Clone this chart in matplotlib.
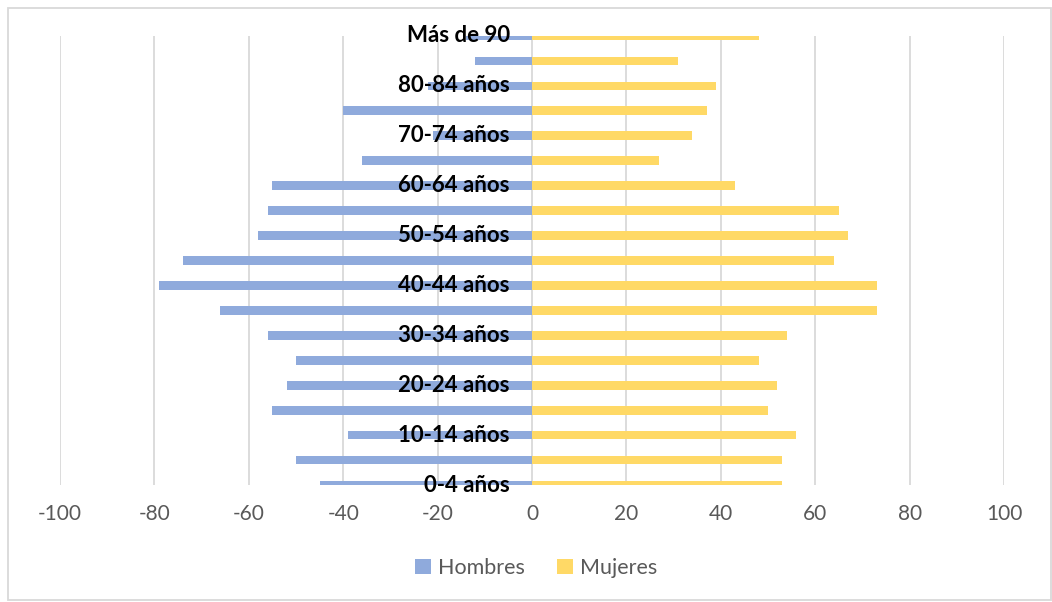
import matplotlib.pyplot as plt
from matplotlib.patches import Rectangle

# grupos de edad, de abajo hacia arriba
grupos = ['0-4 años', '5-9 años', '10-14 años', '15-19 años', '20-24 años',
          '25-29 años', '30-34 años', '35-39 años', '40-44 años', '45-49 años',
          '50-54 años', '55-59 años', '60-64 años', '65-69 años', '70-74 años',
          '75-79 años', '80-84 años', '85-89 años', 'Más de 90']
hombres = [-45, -50, -39, -55, -52, -50, -56, -66, -79, -74,
           -58, -56, -55, -36, -21, -40, -22, -12, -14]
mujeres = [53, 53, 56, 50, 52, 48, 54, 73, 73, 64,
           67, 65, 43, 27, 34, 37, 39, 31, 48]
xticks = [-100, -80, -60, -40, -20, 0, 20, 40, 60, 80, 100]

plt.rcParams['font.family'] = ['Lato', 'DejaVu Sans']

fig = plt.figure(figsize=(10.52, 6.02), dpi=100)
ax = fig.add_axes([60/1052, (602-485)/602, (1004-60)/1052, (485-36)/602])

y = list(range(len(grupos)))
ax.barh(y, hombres, height=0.35, color='#8faadc', label='Hombres', zorder=2)
ax.barh(y, mujeres, height=0.35, color='#ffd966', label='Mujeres', zorder=2)

# lineas verticales de la cuadricula
for t in xticks:
    ax.axvline(t, color='#d9d9d9', lw=1.3, zorder=0)

ax.set_xlim(-100, 100)
ax.set_ylim(0, 18)
ax.set_xticks(xticks)
ax.set_xticklabels([str(t) for t in xticks], fontsize=15, color='#595959')
ax.tick_params(axis='x', length=0, pad=14)
ax.set_yticks([])
for s in ax.spines.values():
    s.set_visible(False)

# etiquetas de grupo, una si y una no
for i, g in enumerate(grupos):
    if i % 2 == 0:
        ax.annotate(g, (0, i), xytext=(-16, 0), textcoords='offset points',
                    ha='right', va='center', fontsize=16, fontweight='bold',
                    color='black', zorder=5, annotation_clip=False)

fig.legend(loc='center', bbox_to_anchor=(536/1052, 1 - 568/602), ncol=2,
           frameon=False, fontsize=15.5, labelcolor='#595959',
           handlelength=0.75, handleheight=0.75, handletextpad=0.3,
           columnspacing=1.5)

fig.patches.append(Rectangle((8/1052, 2/602), 1043/1052, 592/602,
                             transform=fig.transFigure, fill=False,
                             edgecolor='#d9d9d9', lw=1.3))

fig.savefig('out.png', dpi=100)
